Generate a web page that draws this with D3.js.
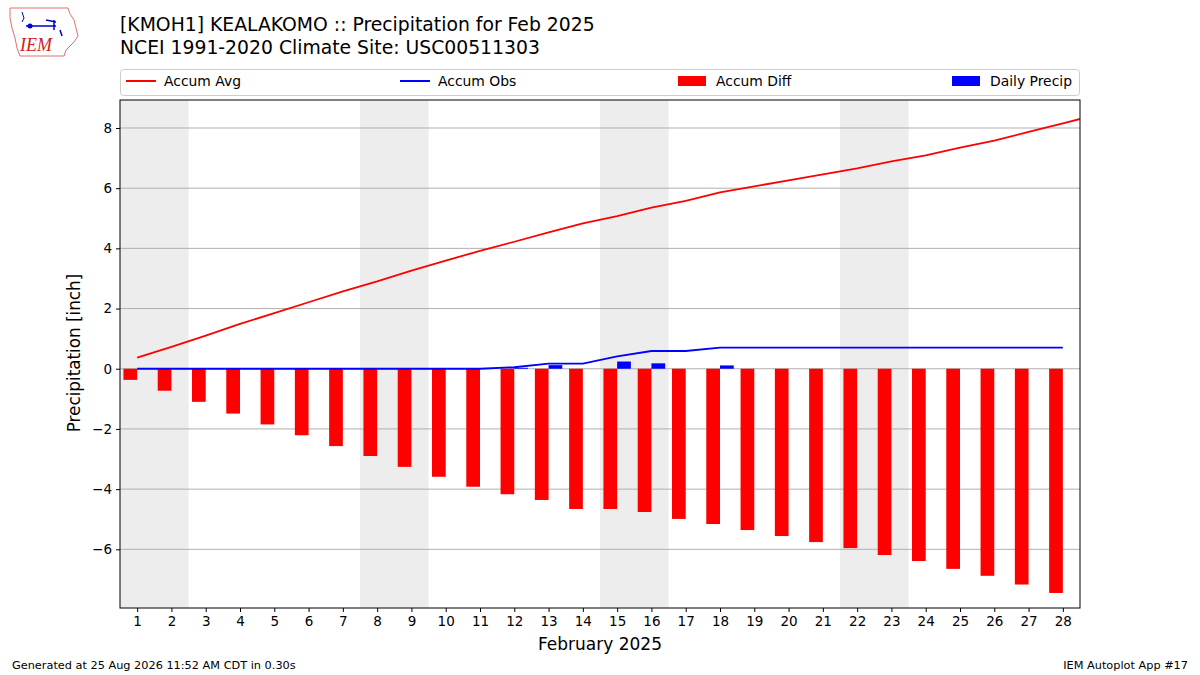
<!DOCTYPE html>
<html>
<head>
<meta charset="utf-8">
<script src="https://cdn.jsdelivr.net/npm/d3@7"></script>
<style>
body { margin: 0; background: #fff; }
svg { font-family: "DejaVu Sans", sans-serif; }
</style>
</head>
<body>
<svg id="chart" width="1200" height="675"></svg>
<script>
// data
var days = [1,2,3,4,5,6,7,8,9,10,11,12,13,14,15,16,17,18,19,20,21,22,23,24,25,26,27,28];
var dailyPrecip = [0,0,0,0,0,0,0,0,0,0,0,0.03,0.12,0,0.24,0.18,0,0.11,0,0,0,0,0,0,0,0,0,0];
var accumObs = [0,0,0,0,0,0,0,0,0,0,0,0.05,0.17,0.17,0.41,0.59,0.59,0.70,0.70,0.70,0.70,0.70,0.70,0.70,0.70,0.70,0.70,0.70];
var accumDiff = [-0.37,-0.73,-1.10,-1.49,-1.85,-2.21,-2.57,-2.90,-3.26,-3.59,-3.92,-4.17,-4.36,-4.66,-4.66,-4.76,-4.99,-5.16,-5.36,-5.56,-5.76,-5.96,-6.19,-6.39,-6.65,-6.88,-7.17,-7.45];
// avg climatology runs one day past the month and is clipped at the axes edge
var avgDays = [1,2,3,4,5,6,7,8,9,10,11,12,13,14,15,16,17,18,19,20,21,22,23,24,25,26,27,28,29];
var accumAvg = [0.37,0.73,1.10,1.49,1.85,2.21,2.57,2.90,3.26,3.59,3.92,4.22,4.53,4.83,5.07,5.35,5.58,5.86,6.06,6.26,6.46,6.66,6.89,7.09,7.35,7.58,7.87,8.15,8.45];
var weekendStarts = [1,8,15,22];
var yTicks = [-6,-4,-2,0,2,4,6,8];

var svg = d3.select("#chart");
var m = {left:120, right:1080, top:100, bottom:608};

var x = d3.scaleLinear().domain([0.5,28.5]).range([m.left,m.right]);
var y = d3.scaleLinear().domain([-7.95,8.93]).range([m.bottom,m.top]);

svg.append("defs").append("clipPath").attr("id","clip")
  .append("rect").attr("x",m.left).attr("y",m.top)
  .attr("width",m.right-m.left).attr("height",m.bottom-m.top);

var plot = svg.append("g").attr("clip-path","url(#clip)");

// weekend shading
plot.selectAll(".wk").data(weekendStarts).enter().append("rect")
  .attr("x", function(d){return x(d-0.5);})
  .attr("width", function(d){return x(d+1.5)-x(d-0.5);})
  .attr("y", m.top).attr("height", m.bottom-m.top)
  .attr("fill","#ededed");

// grid
plot.selectAll(".grid").data(yTicks).enter().append("line")
  .attr("x1",m.left).attr("x2",m.right)
  .attr("y1",function(d){return y(d);}).attr("y2",function(d){return y(d);})
  .attr("stroke","#b0b0b0").attr("stroke-width",1);

// accum diff bars (left of the day)
plot.selectAll(".diff").data(days).enter().append("rect")
  .attr("x",function(d){return x(d-0.4);})
  .attr("width",function(d){return x(d)-x(d-0.4);})
  .attr("y",function(d,i){return y(Math.max(0,accumDiff[i]));})
  .attr("height",function(d,i){return Math.abs(y(accumDiff[i])-y(0));})
  .attr("fill","#ff0000");

// daily precip bars (right of the day)
plot.selectAll(".daily").data(days).enter().append("rect")
  .attr("x",function(d){return x(d);})
  .attr("width",function(d){return x(d+0.4)-x(d);})
  .attr("y",function(d,i){return y(dailyPrecip[i]);})
  .attr("height",function(d,i){return y(0)-y(dailyPrecip[i]);})
  .attr("fill","#0000ff");

var lineAvg = d3.line().x(function(d){return x(d);}).y(function(d,i){return y(accumAvg[i]);});
var lineObs = d3.line().x(function(d){return x(d);}).y(function(d,i){return y(accumObs[i]);});

plot.append("path").datum(avgDays).attr("d",lineAvg)
  .attr("fill","none").attr("stroke","#ff0000").attr("stroke-width",1.8);
plot.append("path").datum(days).attr("d",lineObs)
  .attr("fill","none").attr("stroke","#0000ff").attr("stroke-width",1.8);

// axes
var xAxis = d3.axisBottom(x).tickValues(days).tickSize(4).tickPadding(4).tickFormat(d3.format("d"));
var yAxis = d3.axisLeft(y).tickValues(yTicks).tickSize(4).tickPadding(4).tickFormat(d3.format("d"));

var gx = svg.append("g").attr("transform","translate(0,"+m.bottom+")").call(xAxis);
var gy = svg.append("g").attr("transform","translate("+m.left+",0)").call(yAxis);
[gx,gy].forEach(function(g){
  g.select(".domain").remove();
  g.selectAll("text").attr("font-size","13.5px").attr("fill","#000").attr("font-family","DejaVu Sans");
  g.selectAll("line").attr("stroke","#000");
});

svg.append("rect").attr("x",m.left).attr("y",m.top)
  .attr("width",m.right-m.left).attr("height",m.bottom-m.top)
  .attr("fill","none").attr("stroke","#000").attr("stroke-width",1);

svg.append("text").attr("x",600).attr("y",650).attr("text-anchor","middle")
  .attr("font-size","17px").text("February 2025");
svg.append("text").attr("transform","translate(80,353) rotate(-90)").attr("text-anchor","middle")
  .attr("font-size","16.8px").text("Precipitation [inch]");

// titles
svg.append("text").attr("x",120).attr("y",31).attr("font-size","18.8px")
  .text("[KMOH1] KEALAKOMO :: Precipitation for Feb 2025");
svg.append("text").attr("x",120).attr("y",54).attr("font-size","18.8px")
  .text("NCEI 1991-2020 Climate Site: USC00511303");

// legend
var leg = svg.append("g");
leg.append("rect").attr("x",120.5).attr("y",69.5).attr("width",959).attr("height",26)
  .attr("rx",3).attr("fill","#fff").attr("stroke","#cccccc");
var legItems = [
  {label:"Accum Avg", color:"#ff0000", kind:"line", x:126},
  {label:"Accum Obs", color:"#0000ff", kind:"line", x:400},
  {label:"Accum Diff", color:"#ff0000", kind:"rect", x:678},
  {label:"Daily Precip", color:"#0000ff", kind:"rect", x:952}
];
legItems.forEach(function(it){
  if (it.kind === "line") {
    leg.append("line").attr("x1",it.x).attr("x2",it.x+30).attr("y1",81).attr("y2",81)
      .attr("stroke",it.color).attr("stroke-width",2);
  } else {
    leg.append("rect").attr("x",it.x).attr("y",76).attr("width",28).attr("height",10).attr("fill",it.color);
  }
  leg.append("text").attr("x",it.x+38).attr("y",86).attr("font-size","13.9px").text(it.label);
});

// footer
svg.append("text").attr("x",12).attr("y",669).attr("font-size","11.3px")
  .text("Generated at 25 Aug 2026 11:52 AM CDT in 0.30s");
svg.append("text").attr("x",1188).attr("y",669).attr("text-anchor","end").attr("font-size","11.3px")
  .text("IEM Autoplot App #17");

// IEM logo (rough Iowa outline)
var logo = svg.append("g");
logo.append("path")
  .attr("d","M10,8 L68,8 L70,14 L74,20 L76,28 L78,36 L74,42 L70,46 L66,50 L64,56 L20,56 L17,48 L15,38 L12,28 L10,18 Z")
  .attr("fill","#fff").attr("stroke","#e07070").attr("stroke-width",1);
logo.append("path").attr("d","M26,26 L56,26 M54,20 L54,30 M46,20 L56,22 M60,30 L62,36")
  .attr("stroke","#0000cc").attr("stroke-width",1.5).attr("fill","none");
logo.append("circle").attr("cx",30).attr("cy",26).attr("r",2.5).attr("fill","#0000cc");
logo.append("path").attr("d","M22,12 L24,18 L22,22").attr("stroke","#0000cc").attr("fill","none");
logo.append("text").attr("x",20).attr("y",51).attr("font-family","Liberation Serif")
  .attr("font-style","italic").attr("font-size","18px").attr("fill","#d02020").text("IEM");
</script>
</body>
</html>
